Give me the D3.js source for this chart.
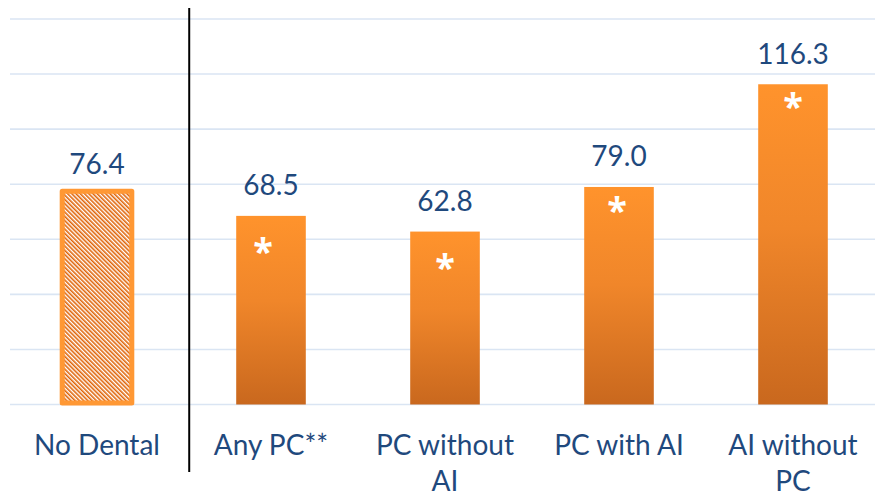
<!DOCTYPE html>
<html>
<head>
<meta charset="utf-8">
<script src="https://cdn.jsdelivr.net/npm/d3@7"></script>
<style>
  body { margin: 0; background: #fff; }
  svg { display: block; font-family: Lato, "Open Sans", sans-serif; }
</style>
</head>
<body>
<svg id="chart" width="875" height="498"></svg>
<script>
// chart data
const categories = ["No Dental", "Any PC**", "PC without AI", "PC with AI", "AI without PC"];
const labelLines = [["No Dental"], ["Any PC**"], ["PC without", "AI"], ["PC with AI"], ["AI without", "PC"]];
const values = [76.4, 68.5, 62.8, 79.0, 116.3];
const significant = [false, true, true, true, true]; // white asterisk in the bar
const yTicks = [0, 20, 40, 60, 80, 100, 120, 140];

// hand-placed asterisks in the original: nudge from default spot (px)
const starDx = [0, -8, 0, -2, 0];
const starDy = [0, 13, 13, 1, 0];

const width = 875, height = 498;
const margin = { top: 19, right: -5, bottom: 93.5, left: 10 };

const svg = d3.select("#chart");

// scales
const x = d3.scaleBand()
  .domain(categories)
  .range([margin.left, width - margin.right])
  .paddingInner(0.6)
  .paddingOuter(0.3);

const y = d3.scaleLinear()
  .domain([0, 140])
  .range([height - margin.bottom, margin.top]);

// defs: gradient for bars, hatch for the reference bar
const defs = svg.append("defs");
const grad = defs.append("linearGradient")
  .attr("id", "barGrad")
  .attr("x1", 0).attr("y1", 0).attr("x2", 0).attr("y2", 1);
grad.append("stop").attr("offset", "0%").attr("stop-color", "#FF932C");
grad.append("stop").attr("offset", "45%").attr("stop-color", "#F0862A");
grad.append("stop").attr("offset", "100%").attr("stop-color", "#C9681E");

const hatch = defs.append("pattern")
  .attr("id", "hatch")
  .attr("patternUnits", "userSpaceOnUse")
  .attr("width", 3).attr("height", 3)
  .attr("patternTransform", "rotate(-45)");
hatch.append("rect").attr("width", 3).attr("height", 3).attr("fill", "#fff");
hatch.append("line")
  .attr("x1", 0.8).attr("y1", 0).attr("x2", 0.8).attr("y2", 3)
  .attr("stroke", "#DF6408").attr("stroke-width", 1.6);

// gridlines
svg.append("g")
  .selectAll("line")
  .data(yTicks)
  .join("line")
  .attr("x1", margin.left)
  .attr("x2", width)
  .attr("y1", d => y(d))
  .attr("y2", d => y(d))
  .attr("stroke", "#DAE5F3")
  .attr("stroke-width", 1.6);

// bars
const data = categories.map((c, i) => ({
  cat: c, value: values[i], star: significant[i], lines: labelLines[i], dx: starDx[i], dy: starDy[i]
}));

svg.append("g")
  .selectAll("rect")
  .data(data)
  .join("rect")
  .attr("x", d => x(d.cat))
  .attr("width", x.bandwidth())
  .attr("y", d => d.star ? y(d.value) : y(d.value) - 3)
  .attr("height", d => d.star ? y(0) - y(d.value) : y(0) - y(d.value) + 1.5)
  .attr("fill", d => d.star ? "url(#barGrad)" : "url(#hatch)")
  .attr("stroke", d => d.star ? "none" : "#FF9834")
  .attr("stroke-width", 5)
  .attr("stroke-linejoin", "round");

// value labels
svg.append("g")
  .selectAll("text")
  .data(data)
  .join("text")
  .attr("x", d => x(d.cat) + x.bandwidth() / 2)
  .attr("y", d => y(d.value) - 20.5)
  .attr("text-anchor", "middle")
  .attr("fill", "#1F497D")
  .style("font-size", "28px")
  .text(d => d.value.toFixed(1));

// asterisks
svg.append("g")
  .selectAll("text")
  .data(data.filter(d => d.star))
  .join("text")
  .attr("x", d => x(d.cat) + x.bandwidth() / 2 + d.dx)
  .attr("y", d => y(d.value) + 35 + d.dy)
  .attr("text-anchor", "middle")
  .attr("fill", "#fff")
  .style("font-family", "'Open Sans', sans-serif")
  .style("font-size", "36px")
  .style("font-weight", "bold")
  .text("*");

// category labels
const cat = svg.append("g")
  .selectAll("text")
  .data(data)
  .join("text")
  .attr("text-anchor", "middle")
  .attr("fill", "#1F497D")
  .style("font-size", "28px");
cat.selectAll("tspan")
  .data(d => d.lines.map(l => ({ l, cx: x(d.cat) + x.bandwidth() / 2 })))
  .join("tspan")
  .attr("x", d => d.cx)
  .attr("y", (d, i) => y(0) + 50 + i * 36)
  .text(d => d.l);

// separator between reference group and the rest
const sepX = x(categories[1]) - x.step() * 0.27;
svg.append("line")
  .attr("x1", sepX).attr("x2", sepX)
  .attr("y1", 8).attr("y2", 472)
  .attr("stroke", "#000")
  .attr("stroke-width", 2);
</script>
</body>
</html>
